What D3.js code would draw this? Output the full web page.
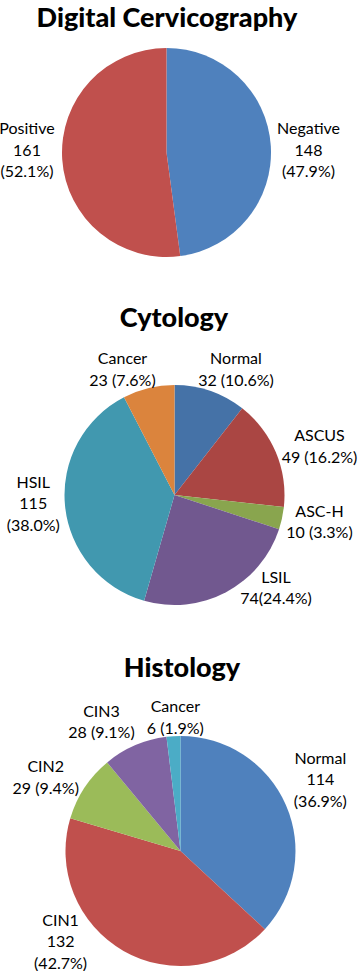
<!DOCTYPE html>
<html>
<head>
<meta charset="utf-8">
<script src="https://cdn.jsdelivr.net/npm/d3@7"></script>
<style>
  body { margin: 0; background: #fff; }
  svg { display: block; }
</style>
</head>
<body>
<div id="chart"></div>
<script>
// Chart data
var titles = ["Digital Cervicography", "Cytology", "Histology"];

var dcLabels = ["Negative", "Positive"];
var dcValues = [148, 161];
var dcPercents = ["47.9%", "52.1%"];

var cytoLabels = ["Normal", "ASCUS", "ASC-H", "LSIL", "HSIL", "Cancer"];
var cytoValues = [32, 49, 10, 74, 115, 23];
var cytoPercents = ["10.6%", "16.2%", "3.3%", "24.4%", "38.0%", "7.6%"];

var histoLabels = ["Normal", "CIN1", "CIN2", "CIN3", "Cancer"];
var histoValues = [114, 132, 29, 28, 6];
var histoPercents = ["36.9%", "42.7%", "9.4%", "9.1%", "1.9%"];

let width = 358;
let height = 971;

let fontFamily = "Lato, 'Open Sans', sans-serif";

let svg = d3.select("#chart").append("svg")
  .attr("width", width)
  .attr("height", height);

// layout of each pie: center, radius, title baseline, label offsets (in radius units)
let pies = [
  {
    title: titles[0], titleX: 167, titleY: 27,
    cx: 166.5, cy: 152.5, r: 104.5,
    labels: dcLabels, values: dcValues, percents: dcPercents,
    colors: ["#4F81BD", "#C0504D"],
    // how each label is broken into lines: 0 = name / value / (pct), 1 = name / value (pct), 2 = name / value(pct)
    split: [0, 0],
    offsets: [[1.359, -0.024], [-1.335, -0.024]]
  },
  {
    title: titles[1], titleX: 174, titleY: 327,
    cx: 174.5, cy: 495, r: 110,
    labels: cytoLabels, values: cytoValues, percents: cytoPercents,
    colors: ["#4572A7", "#AA4643", "#89A54E", "#71588F", "#4198AF", "#DB843D"],
    split: [1, 1, 1, 2, 0, 1],
    offsets: [[0.559, -1.145], [1.318, -0.445], [1.318, 0.241], [0.923, 0.845], [-1.284, 0.077], [-0.473, -1.145]]
  },
  {
    title: titles[2], titleX: 182, titleY: 677,
    cx: 180.5, cy: 851, r: 115,
    labels: histoLabels, values: histoValues, percents: histoPercents,
    colors: ["#4F81BD", "#C0504D", "#9BBB59", "#8064A2", "#4BACC6"],
    split: [0, 0, 1, 1, 1],
    offsets: [[1.216, -0.622], [-1.043, 0.787], [-1.172, -0.643], [-0.687, -1.122], [-0.045, -1.162]]
  }
];

let lineHeight = 21.5;

pies.forEach(function(p) {
  // Title
  svg.append("text")
    .attr("x", p.titleX)
    .attr("y", p.titleY)
    .attr("text-anchor", "middle")
    .style("font-family", fontFamily)
    .style("font-weight", 900)
    .style("font-size", "27px")
    .style("fill", "#000")
    .text(p.title);

  let pie = d3.pie().sort(null).value(d => d)(p.values);
  let arc = d3.arc().innerRadius(0).outerRadius(p.r);

  let g = svg.append("g")
    .attr("transform", "translate(" + p.cx + ", " + p.cy + ")");

  g.selectAll("path")
    .data(pie)
    .enter()
    .append("path")
    .attr("d", arc)
    .style("fill", (d, i) => p.colors[i])
    .style("stroke", "none");

  // Labels
  pie.forEach(function(d, i) {
    let lines;
    if (p.split[i] == 0) {
      lines = [p.labels[i], String(p.values[i]), "(" + p.percents[i] + ")"];
    } else if (p.split[i] == 1) {
      lines = [p.labels[i], p.values[i] + " (" + p.percents[i] + ")"];
    } else {
      lines = [p.labels[i], p.values[i] + "(" + p.percents[i] + ")"];
    }
    let x = p.offsets[i][0] * p.r;
    let y = p.offsets[i][1] * p.r - (lines.length - 1) * lineHeight / 2;

    let t = g.append("text")
      .attr("text-anchor", "middle")
      .style("font-family", fontFamily)
      .style("font-size", "16px")
      .style("fill", "#000");

    lines.forEach(function(line, k) {
      t.append("tspan")
        .attr("x", x)
        .attr("y", y + k * lineHeight)
        .attr("dy", "0.36em")
        .text(line);
    });
  });
});
</script>
</body>
</html>
